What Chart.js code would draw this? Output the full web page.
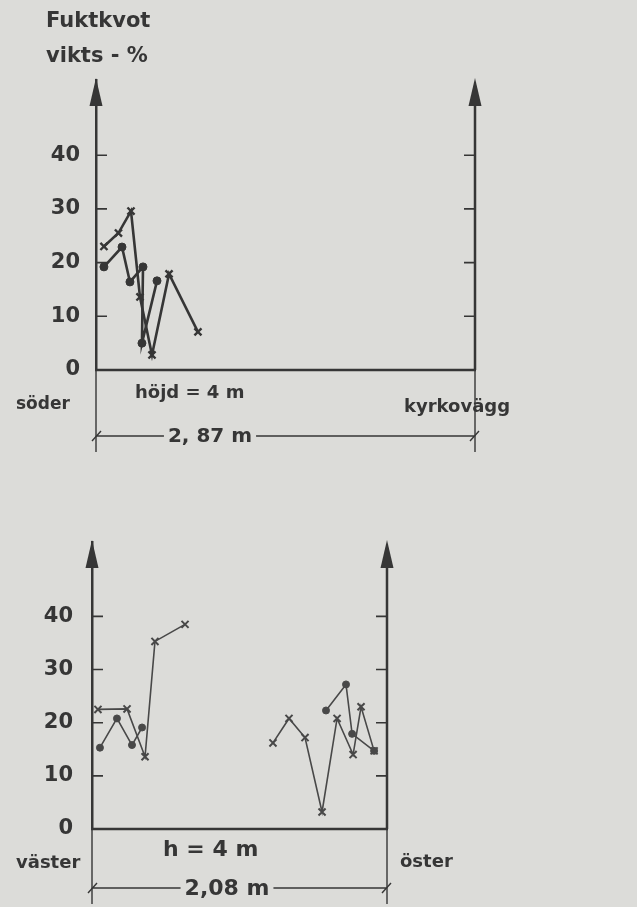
<!DOCTYPE html>
<html>
<head>
<meta charset="utf-8">
<script src="https://cdn.jsdelivr.net/npm/chart.js@4"></script>
<style>
  html, body { margin: 0; padding: 0; background: #dcdcd9; }
  #wrap { position: relative; width: 637px; height: 907px; overflow: hidden; }
  canvas { position: absolute; left: 0; }
  #c1 { top: 0; }
  #c2 { top: 453px; }
</style>
</head>
<body>
<div id="wrap">
  <canvas id="c1" width="637" height="453"></canvas>
  <canvas id="c2" width="637" height="454"></canvas>
</div>
<script>
// fuktkvot (vikts-%), x = distance along the wall in metres
const yTicks = [0, 10, 20, 30, 40];
const yMax = 54;

// söder -> kyrkovägg, 2,87 m
const soderLength = 2.87;
const soderCrossX = [0.06, 0.17, 0.265, 0.333, 0.424, 0.553, 0.772];
const soderCrossY = [23, 25.5, 29.6, 13.6, 2.8, 17.9, 7.1];
const soderDotX = [0.06, 0.197, 0.257, 0.356, 0.348, 0.462];
const soderDotY = [19.2, 22.9, 16.4, 19.2, 5, 16.6];

// väster -> öster, 2,08 m
const vasterLength = 2.08;
const vasterCrossX = [0.042, 0.247, 0.374, 0.444, 0.656];
const vasterCrossY = [22.5, 22.6, 13.6, 35.3, 38.5];
const vasterDotX = [0.056, 0.176, 0.282, 0.353];
const vasterDotY = [15.3, 20.8, 15.8, 19.1];
const osterCrossX = [1.276, 1.389, 1.502, 1.622, 1.728, 1.841, 1.897, 1.989];
const osterCrossY = [16.2, 20.8, 17.2, 3.2, 20.8, 14.0, 23.0, 14.7];
const osterDotX = [1.65, 1.791, 1.834, 1.989];
const osterDotY = [22.3, 27.2, 17.9, 14.7];

const ink = '#363636';
const font = '"DejaVu Sans", sans-serif';

function pts(xs, ys) {
  return xs.map((x, i) => ({ x: x, y: ys[i] }));
}

function series(xs, ys, style, thin) {
  const cross = style === 'x';
  return {
    data: pts(xs, ys),
    showLine: true,
    borderColor: thin ? '#484848' : ink,
    backgroundColor: thin ? '#484848' : ink,
    borderWidth: thin ? 1.6 : 2.6,
    pointStyle: cross ? 'crossRot' : 'circle',
    pointRadius: cross ? 5 : (thin ? 3.5 : 4),
    pointBorderWidth: cross ? (thin ? 2 : 2.4) : 1,
    tension: 0
  };
}

// axes, arrows, dimension line and the labels round the plot
function decoPlugin(d) {
  return {
    id: 'deco',
    afterDraw(chart) {
      const ctx = chart.ctx;
      const a = chart.chartArea;
      const ys = chart.scales.y;
      const y0 = ys.getPixelForValue(0);
      ctx.save();
      ctx.strokeStyle = ink;
      ctx.fillStyle = ink;
      ctx.lineCap = 'butt';

      // right axis
      ctx.lineWidth = 2.5;
      ctx.beginPath();
      ctx.moveTo(a.right, a.top + 10);
      ctx.lineTo(a.right, y0);
      ctx.stroke();
      // baseline
      ctx.beginPath();
      ctx.moveTo(a.left - 1, y0);
      ctx.lineTo(a.right + 1, y0);
      ctx.stroke();

      // arrow heads
      [a.left, a.right].forEach(x => {
        ctx.beginPath();
        ctx.moveTo(x, a.top - 2);
        ctx.lineTo(x - 6.5, a.top + 26);
        ctx.lineTo(x + 6.5, a.top + 26);
        ctx.closePath();
        ctx.fill();
      });

      // inner ticks
      ctx.lineWidth = 1.6;
      yTicks.filter(v => v > 0).forEach(v => {
        const y = ys.getPixelForValue(v);
        ctx.beginPath();
        ctx.moveTo(a.left, y);
        ctx.lineTo(a.left + 11, y);
        ctx.moveTo(a.right - 11, y);
        ctx.lineTo(a.right, y);
        ctx.stroke();
      });

      // extension lines below the base
      ctx.lineWidth = 1.4;
      ctx.beginPath();
      ctx.moveTo(a.left, y0);
      ctx.lineTo(a.left, d.dimY + 16);
      ctx.moveTo(a.right, y0);
      ctx.lineTo(a.right, d.dimY + 16);
      ctx.stroke();

      // dimension line
      ctx.font = 'bold ' + d.dimSize + 'px ' + font;
      ctx.textBaseline = 'middle';
      ctx.textAlign = 'center';
      const tw = ctx.measureText(d.dimText).width;
      ctx.beginPath();
      ctx.moveTo(a.left, d.dimY);
      ctx.lineTo(d.dimX - tw / 2 - 4, d.dimY);
      ctx.moveTo(d.dimX + tw / 2 + 4, d.dimY);
      ctx.lineTo(a.right, d.dimY);
      ctx.moveTo(a.left + 5, d.dimY - 5);
      ctx.lineTo(a.left - 4, d.dimY + 5);
      ctx.moveTo(a.right + 4, d.dimY - 5);
      ctx.lineTo(a.right - 5, d.dimY + 5);
      ctx.stroke();
      ctx.fillText(d.dimText, d.dimX, d.dimY + 1);

      // labels
      ctx.textAlign = 'left';
      d.labels.forEach(l => {
        ctx.font = 'bold ' + l.size + 'px ' + font;
        ctx.fillText(l.text, l.x, l.y);
      });
      ctx.restore();
    }
  };
}

function makeChart(id, length, datasets, pad, axisWidth, labelPad, deco) {
  return new Chart(document.getElementById(id), {
    type: 'scatter',
    data: { datasets: datasets },
    options: {
      responsive: false,
      animation: false,
      layout: { padding: pad },
      plugins: { legend: { display: false }, tooltip: { enabled: false } },
      scales: {
        x: { type: 'linear', min: 0, max: length, display: false },
        y: {
          type: 'linear',
          min: 0,
          max: yMax,
          afterBuildTicks: s => { s.ticks = yTicks.map(v => ({ value: v })); },
          afterFit: s => { s.width = axisWidth; },
          grid: { drawOnChartArea: false, drawTicks: false },
          border: { display: true, color: ink, width: 2.5 },
          ticks: {
            color: ink,
            padding: labelPad,
            font: { family: font, size: 21, weight: 'bold' }
          }
        }
      }
    },
    plugins: [decoPlugin(deco)]
  });
}

makeChart('c1', soderLength, [
  series(soderDotX, soderDotY, 'o', false),
  series(soderCrossX, soderCrossY, 'x', false)
], { left: 0, right: 162, top: 80, bottom: 83 }, 96, 16, {
  dimY: 436, dimX: 210, dimText: '2, 87 m', dimSize: 20,
  labels: [
    { text: 'Fuktkvot', x: 46, y: 22, size: 21 },
    { text: 'vikts - %', x: 46, y: 57, size: 21 },
    { text: 'söder', x: 16, y: 405, size: 17 },
    { text: 'höjd = 4 m', x: 135, y: 393, size: 18 },
    { text: 'kyrkovägg', x: 404, y: 407, size: 18 }
  ]
});

makeChart('c2', vasterLength, [
  series(vasterDotX, vasterDotY, 'o', true),
  series(vasterCrossX, vasterCrossY, 'x', true),
  series(osterDotX, osterDotY, 'o', true),
  series(osterCrossX, osterCrossY, 'x', true)
], { left: 0, right: 250, top: 89, bottom: 78 }, 92, 19, {
  dimY: 435, dimX: 227, dimText: '2,08 m', dimSize: 22,
  labels: [
    { text: 'väster', x: 16, y: 410, size: 18 },
    { text: 'h = 4 m', x: 163, y: 397, size: 22 },
    { text: 'öster', x: 400, y: 409, size: 18 }
  ]
});
</script>
</body>
</html>
